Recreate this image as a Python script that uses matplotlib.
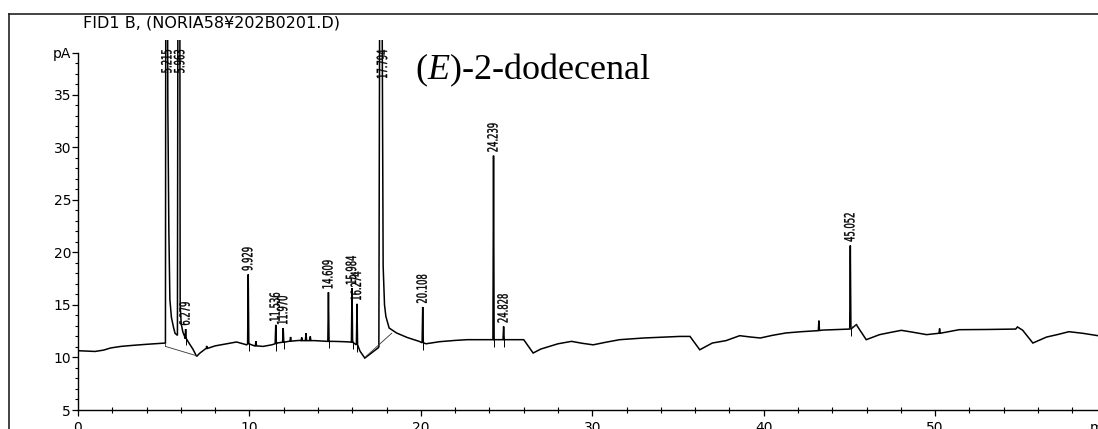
import numpy as np
import matplotlib
matplotlib.use("Agg")
import matplotlib.pyplot as plt
from matplotlib.textpath import TextPath
from matplotlib.patches import PathPatch
from matplotlib.font_manager import FontProperties
from matplotlib.transforms import Affine2D, offset_copy
from matplotlib.lines import Line2D

# detector trace (baseline, tails and the clipped big peaks)
trace_t = [0.0, 0.5, 1.0, 1.5, 1.9, 2.5, 3.2, 4.0, 5.10,
           5.13, 5.20, 5.24, 5.30, 5.36, 5.45, 5.58, 5.66, 5.80,
           5.84, 5.93, 5.96, 6.02, 6.12, 6.22, 6.5, 6.7, 6.92,
           7.1, 7.5, 8.0, 8.5, 9.25, 9.84, 10.3, 10.8, 11.3, 11.6,
           12.2, 12.9, 13.8, 14.9, 15.5, 15.86, 16.45, 16.73, 17.1, 17.5,
           17.55, 17.62, 17.70, 17.80, 17.88, 17.96, 18.15, 18.58, 19.2, 19.9,
           20.3, 21.1, 22.0, 22.7, 24.1, 26.0, 26.55, 27.0, 27.5, 28.0,
           28.79, 29.4, 30.05, 30.8, 31.6, 33.0, 35.1, 35.7, 36.27, 37.0,
           37.8, 38.6, 39.2, 39.8, 40.5, 41.3, 42.2, 43.1, 43.4, 44.9,
           45.4, 45.98, 46.76, 47.3, 48.03, 48.7, 49.5, 51.4, 53.0, 54.7,
           54.8, 55.1, 55.7, 56.5, 57.2, 57.8, 58.6, 59.5]
trace_v = [10.64, 10.6, 10.57, 10.7, 10.9, 11.05, 11.15, 11.25, 11.37,
           60.0, 60.0, 34.0, 22.0, 15.5, 13.8, 12.8, 12.3, 12.1,
           60.0, 60.0, 15.0, 13.2, 12.4, 12.0, 11.3, 10.8, 10.1,
           10.4, 10.9, 11.1, 11.25, 11.47, 11.2, 11.1, 11.05, 11.2, 11.37,
           11.5, 11.62, 11.6, 11.53, 11.5, 11.47, 10.6, 9.94, 10.4, 10.9,
           11.0, 60.0, 60.0, 18.7, 15.0, 13.9, 12.8, 12.33, 11.9, 11.53,
           11.3, 11.5, 11.62, 11.69, 11.69, 11.69, 10.42, 10.8, 11.05, 11.3,
           11.53, 11.35, 11.2, 11.45, 11.69, 11.85, 12.0, 12.0, 10.73, 11.37,
           11.6, 12.07, 11.95, 11.85, 12.1, 12.33, 12.45, 12.55, 12.6, 12.7,
           13.12, 11.69, 12.17, 12.35, 12.58, 12.4, 12.17, 12.64, 12.66, 12.7,
           12.9, 12.6, 11.37, 11.94, 12.2, 12.45, 12.3, 12.07]

# narrow peaks: retention time, apex, local baseline
peak_rt = [6.279, 7.50, 9.929, 10.38, 11.536, 11.970, 12.40, 13.05, 13.30, 13.55,
           14.609, 15.984, 16.274, 20.108, 24.239, 24.828, 43.22, 45.052, 50.26]
peak_top = [12.7, 11.1, 17.9, 11.55, 13.1, 12.8, 11.95, 11.9, 12.3, 12.0,
            16.2, 16.6, 15.1, 14.8, 29.2, 12.95, 13.5, 20.65, 12.75]
peak_base = [11.8, 10.85, 11.3, 11.1, 11.3, 11.45, 11.55, 11.6, 11.6, 11.6,
             11.53, 11.45, 11.2, 11.4, 11.69, 11.69, 12.55, 12.7, 12.3]

# retention time labels, the clipped ones sit at the top of the axis
label_txt = ["5.215", "5.963", "6.279", "9.929", "11.536", "11.970", "14.609",
             "15.984", "16.274", "17.794", "20.108", "24.239", "24.828", "45.052"]
clipped = ["5.215", "5.963", "17.794"]

# integration baseline segments
bl_t0 = [5.10, 5.10, 16.8, 44.95]
bl_v0 = [11.37, 11.05, 10.1, 12.72]
bl_t1 = [5.10, 6.92, 18.3, 45.45]
bl_v1 = [11.05, 10.16, 12.3, 13.1]

yticks = [5, 10, 15, 20, 25, 30, 35, 39]
ytick_labels = ["5", "10", "15", "20", "25", "30", "35", "pA"]
xticks = [0, 10, 20, 30, 40, 50]

W, H = 1098, 429
fig = plt.figure(figsize=(W / 100, H / 100), dpi=100)
ax = fig.add_axes([78 / W, 19 / H, 1 - 78 / W, (389 - 19) / H])
ax.set_xlim(0, 59.5)
ax.set_ylim(5, 40.2)

# build the chromatogram: trace points plus a triangle for each narrow peak
hw = 0.035
t = np.concatenate([trace_t, np.array(peak_rt) - hw, peak_rt, np.array(peak_rt) + hw])
v = np.concatenate([trace_v, peak_base, peak_top, peak_base])
order = np.argsort(t, kind="stable")
ax.plot(t[order], v[order], color="black", lw=1.1, solid_joinstyle="miter")

for a, b, c, d in zip(bl_t0, bl_v0, bl_t1, bl_v1):
    ax.plot([a, c], [b, d], color="#333333", lw=0.6)

# short retention-time markers under labeled peaks
for s in label_txt:
    if s in clipped:
        continue
    i = peak_rt.index(float(s))
    ax.vlines(peak_rt[i] + 0.03, peak_base[i] - 0.65, peak_base[i] + 0.1, color="black", lw=0.7)

# axes styling
for side in ["top", "right"]:
    ax.spines[side].set_visible(False)
ax.spines["left"].set_bounds(5, 39)
ax.spines["left"].set_linewidth(1.0)
ax.spines["bottom"].set_linewidth(1.0)
ax.set_yticks(yticks)
ax.set_yticklabels(ytick_labels)
ax.set_yticks(np.arange(5, 40, 1), minor=True)
ax.set_xticks(xticks)
ax.set_xticks(np.arange(0, 60, 2), minor=True)
ax.tick_params(axis="y", which="major", direction="out", length=4.5, width=0.9, pad=0.5, labelsize=10)
ax.tick_params(axis="y", which="minor", direction="out", length=2.2, width=0.8)
ax.tick_params(axis="x", which="major", direction="out", length=4.5, width=0.9, pad=3.5, labelsize=10)
ax.tick_params(axis="x", which="minor", direction="inout", length=4, width=0.8)
ax.patch.set_visible(False)

ax.text(59.0, 0, "min", transform=offset_copy(ax.get_xaxis_transform(), fig=fig, y=-11, units="dots"),
        va="top", ha="left", fontsize=10)

# condensed rotated peak labels drawn as paths
fp = FontProperties(family="DejaVu Sans")
fig.canvas.draw()


def rt_label(s, x, y, top=False):
    tp = TextPath((0, 0), s, size=14, prop=fp)
    bb = tp.get_extents()
    sx = 0.6
    length = (bb.x1 - bb.x0) * sx
    cap = 10.0
    px, py = ax.transData.transform((x, y))
    if top:
        y0 = py - length
    else:
        y0 = py + 4
    tr = (Affine2D().translate(-bb.x0, 0).scale(sx, 1).rotate_deg(90)
          .translate(px + cap / 2 - 1.0, y0))
    fig.add_artist(PathPatch(tp, transform=tr, facecolor="black", edgecolor="black", lw=0.25))


for s in label_txt:
    rt = float(s)
    if s in clipped:
        rt_label(s, rt, ax.transData.inverted().transform((0, H - 50))[1], top=True)
    else:
        rt_label(s, rt, peak_top[peak_rt.index(rt)])

# compound name
plt.rcParams["mathtext.fontset"] = "custom"
plt.rcParams["mathtext.rm"] = "Liberation Serif"
plt.rcParams["mathtext.it"] = "Liberation Serif:italic"
ax.text(19.65, 36.5, r"($\mathit{E}$)-2-dodecenal", family="Liberation Serif",
        fontsize=26, va="baseline", ha="left")

# title and outer frame
fig.text(83 / W, 1 - 15 / H, "FID1 B, (NORIA58¥202B0201.D)", fontsize=11.5, va="top", ha="left")
fig.add_artist(Line2D([9 / W, 1], [1 - 14 / H, 1 - 14 / H], color="#222222", lw=1.2))
fig.add_artist(Line2D([9 / W, 9 / W], [0, 1 - 14 / H], color="#222222", lw=1.2))

fig.savefig("out.png", dpi=100)
